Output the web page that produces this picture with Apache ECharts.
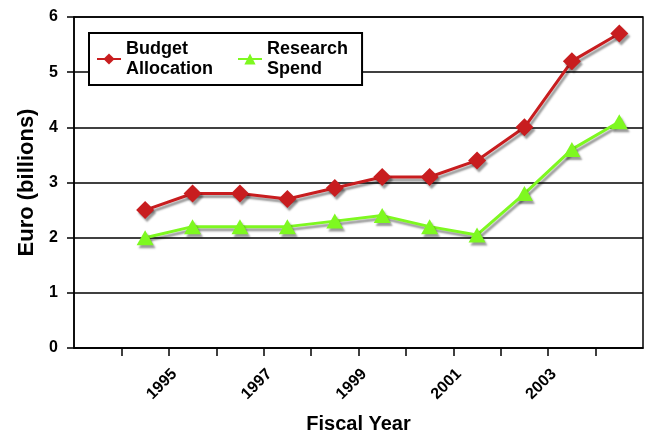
<!DOCTYPE html>
<html>
<head>
<meta charset="utf-8">
<script src="https://cdn.jsdelivr.net/npm/echarts@6/dist/echarts.min.js"></script>
<style>
  html, body { margin: 0; padding: 0; background: #fff; }
  #chart { width: 649px; height: 432px; }
</style>
</head>
<body>
<div id="chart"></div>
<script>
// fiscal years sit in the middle of each year band
const fiscalYears = [1994.5, 1995.5, 1996.5, 1997.5, 1998.5, 1999.5, 2000.5, 2001.5, 2002.5, 2003.5, 2004.5]
const budgetAllocation = [2.5, 2.8, 2.8, 2.7, 2.9, 3.1, 3.1, 3.4, 4.0, 5.2, 5.7]
const researchSpend = [2.0, 2.2, 2.2, 2.2, 2.3, 2.4, 2.2, 2.05, 2.8, 3.6, 4.1]
const yearLabels = [1995, 1997, 1999, 2001, 2003]

const font = '"Liberation Sans", Arial, Helvetica, sans-serif'
const red = '#c81d1f'
const green = '#7ef820'

const pair = (xs, ys) => xs.map((x, i) => [x, ys[i]])

const shadow = {
  shadowColor: 'rgba(0,0,0,0.4)',
  shadowBlur: 2,
  shadowOffsetX: 2,
  shadowOffsetY: 3
}

const chart = echarts.init(document.getElementById('chart'))

chart.setOption({
  animation: false,
  textStyle: { fontFamily: font },
  grid: {
    left: 74, right: 6, top: 17, bottom: 84,
    outerBoundsMode: 'none',
    containLabel: false,
    show: true, borderColor: '#000', borderWidth: 1.5
  },
  legend: {
    left: 89, top: 33,
    padding: [6, 14, 6, 7],
    itemGap: 24,
    itemWidth: 24,
    itemHeight: 14,
    backgroundColor: '#fff',
    borderColor: '#000',
    borderWidth: 2,
    textStyle: { fontFamily: font, fontWeight: 'bold', fontSize: 18, lineHeight: 20, color: '#000' },
    data: ['Budget\nAllocation', 'Research\nSpend']
  },
  xAxis: {
    type: 'value',
    min: 1993, max: 2005, interval: 1,
    name: 'Fiscal Year',
    nameLocation: 'middle',
    nameGap: 66,
    nameTextStyle: { fontFamily: font, fontWeight: 'bold', fontSize: 20, color: '#000' },
    axisLine: { lineStyle: { color: '#000', width: 1.5 } },
    axisTick: { length: 8, lineStyle: { color: '#000', width: 1.5 } },
    splitLine: { show: false },
    axisLabel: {
      rotate: 45,
      margin: 18,
      verticalAlign: 'top',
      fontFamily: font, fontWeight: 'bold', fontSize: 16, color: '#000',
      showMinLabel: false, showMaxLabel: false,
      formatter: v => yearLabels.includes(v) ? String(v) : ''
    }
  },
  yAxis: {
    type: 'value',
    min: 0, max: 6, interval: 1,
    name: 'Euro (billions)',
    nameLocation: 'middle',
    nameGap: 35,
    nameTextStyle: { fontFamily: font, fontWeight: 'bold', fontSize: 22, color: '#000' },
    axisLine: { show: true, lineStyle: { color: '#000', width: 1.5 } },
    axisTick: { show: true, length: 7, lineStyle: { color: '#000', width: 1.5 } },
    splitLine: { lineStyle: { color: '#000', width: 1.5 } },
    axisLabel: { margin: 16, fontFamily: font, fontWeight: 'bold', fontSize: 16, color: '#000' }
  },
  series: [
    {
      name: 'Budget\nAllocation',
      type: 'line',
      data: pair(fiscalYears, budgetAllocation),
      symbol: 'diamond',
      symbolSize: 18,
      color: red,
      lineStyle: Object.assign({ color: red, width: 3 }, shadow),
      itemStyle: Object.assign({ color: red }, shadow),
      z: 3
    },
    {
      name: 'Research\nSpend',
      type: 'line',
      data: pair(fiscalYears, researchSpend),
      symbol: 'triangle',
      symbolSize: [17, 15],
      color: green,
      lineStyle: Object.assign({ color: green, width: 3 }, shadow),
      itemStyle: Object.assign({ color: green }, shadow),
      z: 3
    }
  ]
})
</script>
</body>
</html>
